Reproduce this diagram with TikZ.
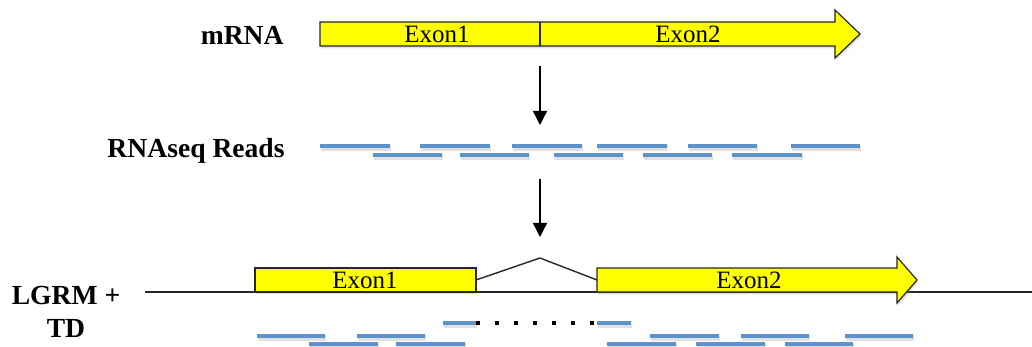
\documentclass[tikz,border=0pt]{standalone}
\usepackage{fontspec}
\setmainfont{Liberation Serif}
\usetikzlibrary{arrows.meta,shadows}
\definecolor{readblue}{HTML}{5E92CB}
\definecolor{exonyel}{HTML}{FFFF00}
\begin{document}
\begin{tikzpicture}[x=0.5pt,y=-0.5pt,
  lbl/.style={font=\fontsize{13.8}{16.5}\selectfont\bfseries, inner sep=0pt},
  exontext/.style={font=\fontsize{12.5}{14}\selectfont, inner sep=0pt},
  exonshape/.style={fill=exonyel, draw=black!85, line width=0.6pt,
    drop shadow={opacity=0.25, shadow xshift=0.6pt, shadow yshift=-1.2pt}},
  read/.style={draw=readblue, line width=2pt},
  readshadow/.style={draw=black, opacity=0.12, line width=2.4pt},
  flow/.style={-{Triangle[length=7pt,width=7pt]}, line width=0.7pt},
  genome/.style={line width=0.7pt, draw=black!85}]
\useasboundingbox (0,0) rectangle (1032,347);

% labels
\node[lbl, anchor=east] (lmrna) at (284,35) {mRNA};
\node[lbl, anchor=east] (lreads) at (285,151) {RNAseq Reads};
\node[lbl, align=center] (llgrm) at (66,312) {LGRM +\\TD};

% mRNA arrow
\draw[exonshape] (320,22) -- (835,22) -- (835,10) -- (860,34) -- (835,58) -- (835,46) -- (320,46) -- cycle;
\draw[line width=0.6pt, draw=black!85] (540,22) -- (540,46);
\node[exontext] (e1top) at (437,34) {Exon1};
\node[exontext] (e2top) at (688,34) {Exon2};

% flow arrows
\coordinate (a1s) at (540,66);
\coordinate (a1e) at (540,125);
\coordinate (a2s) at (540,179);
\coordinate (a2e) at (540,237);
\draw[flow] (a1s) -- (a1e);
\draw[flow] (a2s) -- (a2e);

% RNAseq reads
\foreach \a/\b in {320/390,420/490,512/582,597/667,688/757,791/860}{
  \draw[readshadow] (\a+1,148.5) -- (\b+1,148.5);
  \draw[read] (\a,146) -- (\b,146);}
\foreach \a/\b in {373/442,460/529,554/623,643/712,732/802}{
  \draw[readshadow] (\a+1,157.5) -- (\b+1,157.5);
  \draw[read] (\a,155) -- (\b,155);}

% genome line and exons
\draw[genome] (145,292) -- (1032,292);
\draw[exonshape] (255,268) rectangle (476,292);
\draw[exonshape] (597,268) -- (897,268) -- (897,257) -- (917,280) -- (897,303) -- (897,292) -- (597,292) -- cycle;
\draw[genome] (476,280) -- (540,258) -- (597,280);
\node[exontext] (e1bot) at (365,280) {Exon1};
\node[exontext] (e2bot) at (749,280) {Exon2};

% mapped reads
\draw[readshadow] (444,325.5) -- (477,325.5);
\draw[read] (443,323) -- (477,323);
\draw[readshadow] (598,325.5) -- (632,325.5);
\draw[read] (597,323) -- (631,323);
\foreach \i in {0,...,6}{
  \fill[black] (475.7+\i*19,321) rectangle (479.7+\i*19,325);}
\foreach \a/\b in {257/325,357/425,650/719,741/809,845/913}{
  \draw[readshadow] (\a+1,338.5) -- (\b+1,338.5);
  \draw[read] (\a,336) -- (\b,336);}
\foreach \a/\b in {309/378,396/465,607/676,696/765,785/853}{
  \draw[readshadow] (\a+1,346) -- (\b+1,346);
  \draw[read] (\a,344) -- (\b,344);}
\end{tikzpicture}
\end{document}
